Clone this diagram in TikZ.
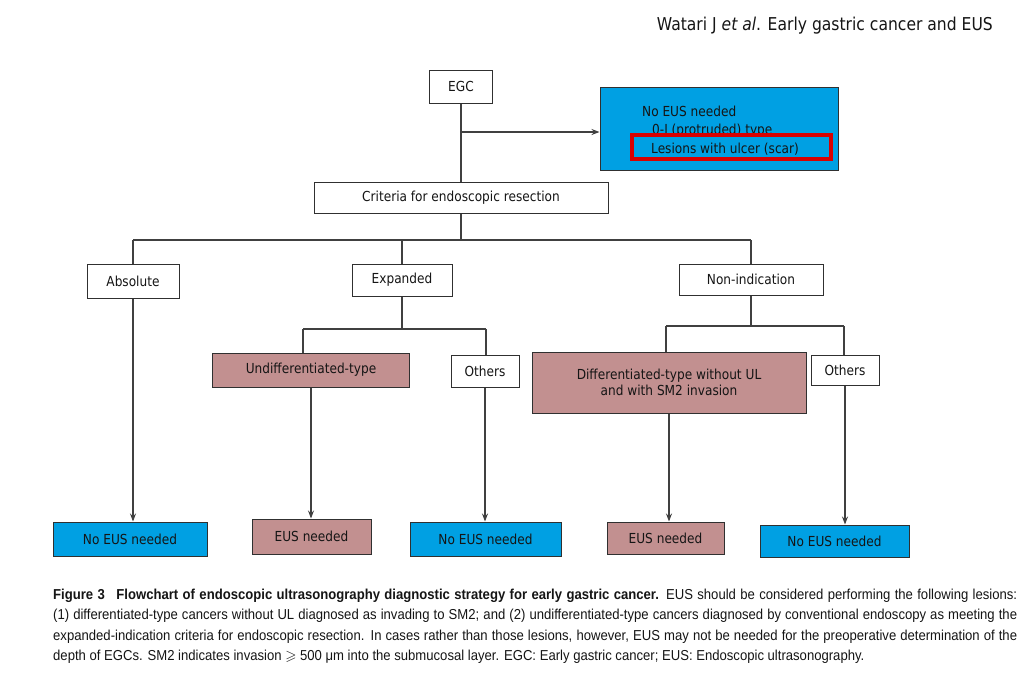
\documentclass[tikz,border=0pt]{standalone}
\usepackage{fontspec}
\usepackage{amssymb}
\setmainfont{DejaVu Sans}[FakeStretch=0.88]
\newfontfamily\capfont{Liberation Sans}[FakeStretch=0.91]
\usetikzlibrary{arrows.meta}
\definecolor{eusblue}{HTML}{00A0E3}
\definecolor{eusmauve}{HTML}{C29090}
\definecolor{linegray}{HTML}{404040}
\definecolor{boxedge}{HTML}{303030}
\definecolor{txtcol}{HTML}{151515}
\begin{document}
\begin{tikzpicture}[x=1pt,y=-1pt,
  plainbox/.style={draw=boxedge, line width=1pt, fill=white, inner sep=0pt, align=center,
    font=\fontsize{13.8}{16.5}\selectfont, text=txtcol},
  bluebox/.style={plainbox, fill=eusblue},
  mauvebox/.style={plainbox, fill=eusmauve},
  redframe/.style={draw=red!85!black, line width=4.5pt, inner sep=0pt},
  txt/.style={inner sep=0pt, font=\fontsize{13.8}{16.5}\selectfont, text=txtcol},
  conn/.style={draw=linegray, line width=1.1pt},
  arr/.style={conn, -{Stealth[length=8pt,width=6pt]}},
  capline/.style={inner sep=0pt, anchor=base west, font=\capfont\fontsize{14.4}{20}\selectfont, text=txtcol}
]
\fill[white] (0,0) rectangle (1033,681);
\useasboundingbox (0,0) rectangle (1033,681);

% header
\node[inner sep=0pt, anchor=base east, font=\fontsize{17.7}{20}\selectfont, text=txtcol] (hdr) at (993,30)
  {Watari J \textit{et al}. Early gastric cancer and EUS};

% top part
\node[plainbox, minimum width=63pt, minimum height=33pt] (egc) at (461,86.5) {EGC};
\node[plainbox, minimum width=294pt, minimum height=31pt] (crit) at (461,197.5) {Criteria for endoscopic resection};
\node[bluebox, minimum width=238pt, minimum height=83pt] (top) at (719,128.5) {};
\node[txt, anchor=base west] (t1) at (642,116) {No EUS needed};
\node[txt, anchor=base west] (t2) at (652,134) {0-I (protruded) type};
\node[redframe, minimum width=199pt, minimum height=24pt] (scar) at (731.5,147) {};
\node[txt, anchor=base west] (t3) at (651,153) {Lesions with ulcer (scar)};

\draw[conn] (egc.south) -- (egc.south |- crit.north);
\coordinate (j) at (461,132);
\draw[arr] (j) -- (j -| top.west);

% level 2
\node[plainbox, minimum width=92pt, minimum height=34pt] (abs) at (133,281) {Absolute};
\node[plainbox, minimum width=100pt, minimum height=32pt] (exp) at (402,280) {Expanded};
\node[plainbox, minimum width=144pt, minimum height=31pt] (nonind) at (751,279.5) {Non-indication};

\coordinate (b1) at (0,240);
\draw[conn] (crit.south) -- (crit.south |- b1);
\draw[conn] (abs.north |- b1) -- (nonind.north |- b1);
\draw[conn] (abs.north |- b1) -- (abs.north);
\draw[conn] (exp.north |- b1) -- (exp.north);
\draw[conn] (nonind.north |- b1) -- (nonind.north);

% level 3
\node[mauvebox, minimum width=197pt, minimum height=34pt] (undiff) at (311,370) {Undifferentiated-type};
\node[plainbox, minimum width=68pt, minimum height=32pt] (othl) at (485,371) {Others};
\node[mauvebox, minimum width=274pt, minimum height=61pt] (diff) at (669,382.5) {Differentiated-type without UL\\and with SM2 invasion};
\node[plainbox, minimum width=68pt, minimum height=30pt] (othr) at (845,370) {Others};

\coordinate (b2l) at (303,329);
\coordinate (b2r) at (486,329);
\draw[conn] (exp.south) -- (exp.south |- b2l);
\draw[conn] (b2l) -- (b2r);
\draw[conn] (b2l) -- (b2l |- undiff.north);
\draw[conn] (b2r) -- (b2r |- othl.north);

\coordinate (b3l) at (666,326);
\coordinate (b3r) at (844,326);
\draw[conn] (nonind.south) -- (nonind.south |- b3l);
\draw[conn] (b3l) -- (b3r);
\draw[conn] (b3l) -- (b3l |- diff.north);
\draw[conn] (b3r) -- (b3r |- othr.north);

% bottom boxes
\node[bluebox, minimum width=154pt, minimum height=34pt] (ne1) at (130,539) {No EUS needed};
\node[mauvebox, minimum width=119pt, minimum height=35pt] (eu1) at (311.5,536.5) {EUS needed};
\node[bluebox, minimum width=151pt, minimum height=34pt] (ne2) at (485.5,539) {No EUS needed};
\node[mauvebox, minimum width=117pt, minimum height=32pt] (eu2) at (665.5,538) {EUS needed};
\node[bluebox, minimum width=149pt, minimum height=32pt] (ne3) at (834.5,541) {No EUS needed};

\draw[arr] (abs.south) -- (abs.south |- ne1.north);
\draw[arr] (undiff.south) -- (undiff.south |- eu1.north);
\draw[arr] (othl.south) -- (othl.south |- ne2.north);
\draw[arr] (diff.south) -- (diff.south |- eu2.north);
\draw[arr] (othr.south) -- (othr.south |- ne3.north);

% caption
\node[capline] (c1) at (53,599) {\makebox[964pt][s]{\textbf{Figure 3\enspace\ Flowchart of endoscopic ultrasonography diagnostic strategy for early gastric cancer.} EUS should be considered performing the following lesions:}};
\node[capline] (c2) at (53,619.5) {\makebox[964pt][s]{(1) differentiated-type cancers without UL diagnosed as invading to SM2; and (2) undifferentiated-type cancers diagnosed by conventional endoscopy as meeting the}};
\node[capline] (c3) at (53,640) {\makebox[964pt][s]{expanded-indication criteria for endoscopic resection. In cases rather than those lesions, however, EUS may not be needed for the preoperative determination of the}};
\node[capline] (c4) at (53,660) {depth of EGCs. SM2 indicates invasion $\geqslant$ 500 μm into the submucosal layer. EGC: Early gastric cancer; EUS: Endoscopic ultrasonography.};
\end{tikzpicture}
\end{document}
